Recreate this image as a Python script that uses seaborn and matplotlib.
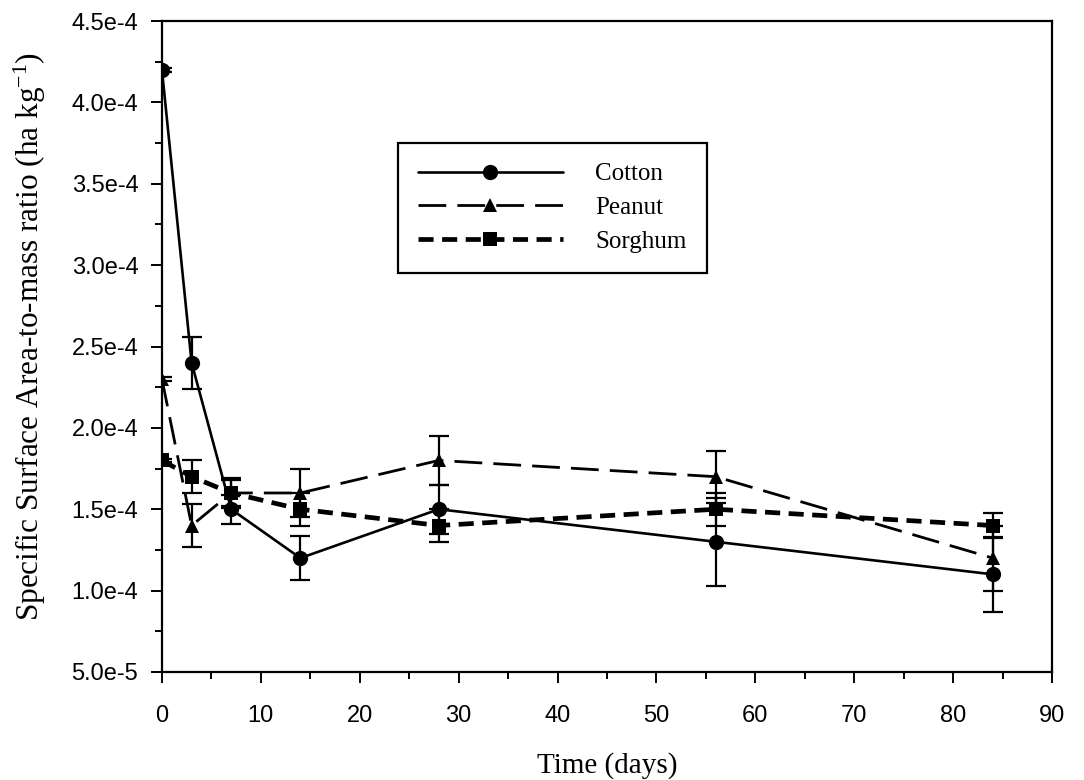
import numpy as np
import pandas as pd
import matplotlib
matplotlib.use("Agg")
import matplotlib.pyplot as plt
from matplotlib.ticker import MultipleLocator, FuncFormatter
from matplotlib.lines import Line2D
import seaborn as sns

# Sampling days
days = [0, 3, 7, 14, 28, 56, 84]

# Specific surface area-to-mass ratio (ha kg^-1) and standard errors
cotton = [4.2e-4, 2.4e-4, 1.5e-4, 1.2e-4, 1.5e-4, 1.3e-4, 1.1e-4]
cotton_err = [0.01e-4, 0.16e-4, 0.09e-4, 0.135e-4, 0.15e-4, 0.27e-4, 0.23e-4]

peanut = [2.3e-4, 1.4e-4, 1.6e-4, 1.6e-4, 1.8e-4, 1.7e-4, 1.2e-4]
peanut_err = [0.01e-4, 0.13e-4, 0.08e-4, 0.145e-4, 0.15e-4, 0.16e-4, 0.2e-4]

sorghum = [1.8e-4, 1.7e-4, 1.6e-4, 1.5e-4, 1.4e-4, 1.5e-4, 1.4e-4]
sorghum_err = [0.01e-4, 0.1e-4, 0.09e-4, 0.1e-4, 0.1e-4, 0.1e-4, 0.075e-4]

crops = ["Cotton", "Peanut", "Sorghum"]
x_ticks = [0, 10, 20, 30, 40, 50, 60, 70, 80, 90]
y_ticks = [5e-5, 1e-4, 1.5e-4, 2e-4, 2.5e-4, 3e-4, 3.5e-4, 4e-4, 4.5e-4]

values = {"Cotton": cotton, "Peanut": peanut, "Sorghum": sorghum}
errors = {"Cotton": cotton_err, "Peanut": peanut_err, "Sorghum": sorghum_err}

df = pd.DataFrame({
    "Time": np.tile(days, len(crops)),
    "Ratio": np.concatenate([values[c] for c in crops]),
    "Crop": np.repeat(crops, len(days)),
})

sns.set_theme(style="ticks")
plt.rcParams["font.family"] = ["Liberation Sans", "DejaVu Sans"]
plt.rcParams["mathtext.fontset"] = "custom"
plt.rcParams["mathtext.rm"] = "Liberation Serif"
plt.rcParams["mathtext.it"] = "Liberation Serif:italic"
plt.rcParams["mathtext.default"] = "regular"
for key in ["text.color", "axes.labelcolor", "xtick.color", "ytick.color",
            "xtick.labelcolor", "ytick.labelcolor"]:
    plt.rcParams[key] = "black"

fig = plt.figure(figsize=(10.84, 7.8), dpi=100)
ax = fig.add_axes([0.1494, 0.1385, 0.8211, 0.8345])

styles = {
    "Cotton": dict(marker="o", lw=1.9, dash=None, ms=11),
    "Peanut": dict(marker="^", lw=2.0, dash=(10, 4), ms=10),
    "Sorghum": dict(marker="s", lw=3.4, dash=(3.2, 1.8), ms=9.5),
}

sns.lineplot(
    data=df, x="Time", y="Ratio", hue="Crop", style="Crop",
    palette={c: "black" for c in crops},
    markers={c: styles[c]["marker"] for c in crops},
    dashes={"Cotton": "", "Peanut": styles["Peanut"]["dash"],
            "Sorghum": styles["Sorghum"]["dash"]},
    markersize=10, markeredgewidth=0, legend=False, ax=ax, zorder=3,
)

# Per-series line widths and marker sizes
for line, c in zip(ax.get_lines(), crops):
    line.set_linewidth(styles[c]["lw"])
    line.set_markersize(styles[c]["ms"])

for c in crops:
    ax.errorbar(days, values[c], yerr=errors[c], fmt="none", ecolor="black",
                elinewidth=1.6, capsize=7.5, capthick=1.6, zorder=2)

ax.set_xlim(0, 90)
ax.set_ylim(5e-5, 4.5e-4)
ax.set_xticks(x_ticks)
ax.set_yticks(y_ticks)
ax.xaxis.set_minor_locator(MultipleLocator(5))
ax.yaxis.set_minor_locator(MultipleLocator(2.5e-5))


def sci_label(v, pos):
    mant, exp = f"{v:.1e}".split("e")
    return f"{mant}e{int(exp)}"


ax.yaxis.set_major_formatter(FuncFormatter(sci_label))
ax.tick_params(axis="both", which="major", direction="out", length=8, width=1.4,
               color="black")
ax.tick_params(axis="both", which="minor", direction="out", length=5, width=1.4,
               color="black")
ax.tick_params(axis="y", labelsize=17, pad=9)
ax.tick_params(axis="x", labelsize=17, pad=16)
ax.tick_params(top=False, right=False, which="both")

for s in ax.spines.values():
    s.set_visible(True)
    s.set_linewidth(1.6)
    s.set_color("black")

ax.set_xlabel("Time (days)", family="Liberation Serif", fontsize=21, labelpad=18)
ax.set_ylabel("Specific Surface Area-to-mass ratio (ha kg$^{-1}$)",
              family="Liberation Serif", fontsize=22.5, labelpad=10)
ax.yaxis.set_label_coords(-0.128, 0.515)

# Legend
handles = []
for c in crops:
    st = styles[c]
    h = Line2D([], [], color="black", lw=st["lw"], marker=st["marker"],
               ms=st["ms"], mew=0)
    if st["dash"] is not None:
        h.set_dashes(st["dash"])
    handles.append(h)
leg = ax.legend(handles, crops, loc="upper left", bbox_to_anchor=(0.265, 0.813),
                frameon=True, fancybox=False, edgecolor="black", framealpha=1,
                prop={"family": "Liberation Serif", "size": 18},
                handlelength=5.8, handletextpad=1.3, borderpad=0.8,
                borderaxespad=0, labelspacing=0.45, markerfirst=True)
leg.get_frame().set_linewidth(1.6)
for t in leg.get_texts():
    t.set_color("black")

fig.savefig("out.png", dpi=100, facecolor="white")
